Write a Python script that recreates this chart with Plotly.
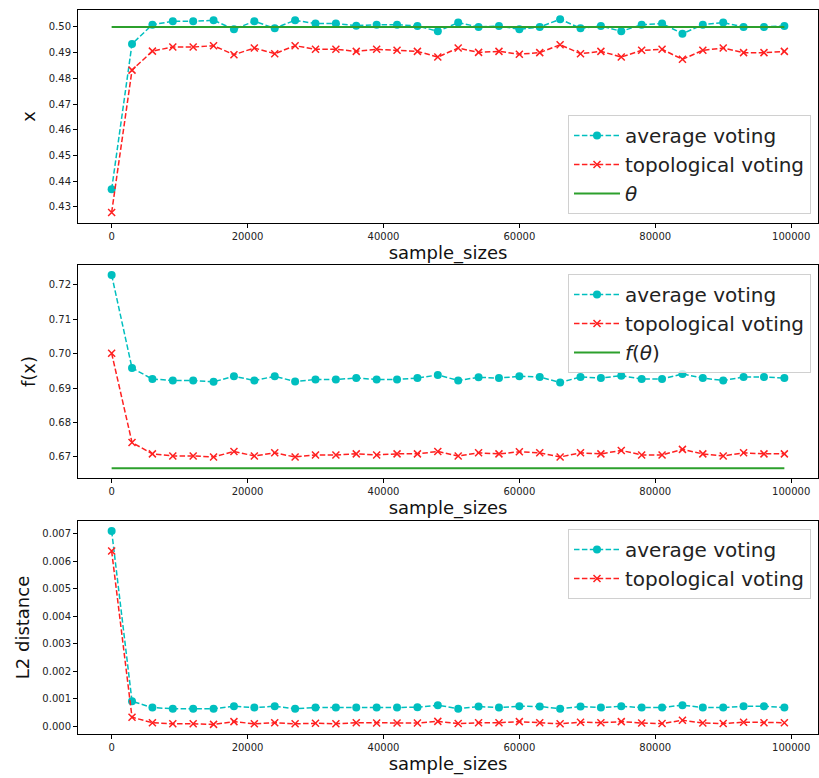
import plotly.graph_objects as go

sample_sizes = list(range(0, 100000, 3000))

x_avg = [0.4368, 0.4934, 0.5009, 0.5022, 0.5022, 0.5026, 0.4991, 0.5022, 0.4995, 0.5026,
         0.5013, 0.5013, 0.5005, 0.5009, 0.5009, 0.5004, 0.4983, 0.5017, 0.5000, 0.5004,
         0.4991, 0.5000, 0.5030, 0.4995, 0.5004, 0.4983, 0.5009, 0.5013, 0.4974, 0.5009,
         0.5017, 0.5000, 0.5000, 0.5004]
x_topo = [0.4278, 0.4832, 0.4906, 0.4922, 0.4922, 0.4927, 0.4892, 0.4918, 0.4896, 0.4927,
          0.4913, 0.4913, 0.4905, 0.4913, 0.4909, 0.4905, 0.4883, 0.4918, 0.4901, 0.4905,
          0.4894, 0.4900, 0.4931, 0.4896, 0.4905, 0.4883, 0.4909, 0.4913, 0.4874, 0.4909,
          0.4918, 0.4900, 0.4900, 0.4905]
theta = 0.5

f_avg = [0.7228, 0.6958, 0.6926, 0.6922, 0.6922, 0.6918, 0.6934, 0.6922, 0.6934, 0.6919,
         0.6925, 0.6925, 0.6929, 0.6925, 0.6925, 0.6929, 0.6938, 0.6922, 0.6931, 0.6929,
         0.6934, 0.6932, 0.6916, 0.6932, 0.6929, 0.6936, 0.6926, 0.6926, 0.6941, 0.6929,
         0.6922, 0.6932, 0.6932, 0.6929]
f_topo = [0.7001, 0.6742, 0.6709, 0.6703, 0.6703, 0.6700, 0.6716, 0.6703, 0.6712, 0.6700,
          0.6706, 0.6706, 0.6709, 0.6706, 0.6709, 0.6709, 0.6716, 0.6703, 0.6712, 0.6709,
          0.6715, 0.6712, 0.6700, 0.6712, 0.6709, 0.6719, 0.6706, 0.6706, 0.6722, 0.6709,
          0.6703, 0.6712, 0.6709, 0.6709]
f_theta = 0.6667

l2_avg = [0.00711, 0.00091, 0.00068, 0.00064, 0.00064, 0.00064, 0.00073, 0.00068, 0.00073, 0.00064,
          0.00068, 0.00068, 0.00068, 0.00068, 0.00068, 0.00069, 0.00077, 0.00064, 0.00072, 0.00068,
          0.00073, 0.00072, 0.00064, 0.00072, 0.00068, 0.00073, 0.00068, 0.00068, 0.00077, 0.00068,
          0.00068, 0.00073, 0.00073, 0.00068]
l2_topo = [0.00638, 0.00033, 0.00013, 0.00009, 0.00009, 0.00007, 0.00017, 0.00009, 0.00013, 0.00009,
           0.00011, 0.00009, 0.00013, 0.00012, 0.00012, 0.00012, 0.00018, 0.00010, 0.00013, 0.00013,
           0.00017, 0.00013, 0.00009, 0.00015, 0.00013, 0.00017, 0.00012, 0.00010, 0.00022, 0.00012,
           0.00010, 0.00015, 0.00013, 0.00013]

CYAN = "#00BFBF"
RED = "#FF2020"
GREEN = "#2ca02c"
DASH = "5.5px,2.4px"
FONT = "DejaVu Sans"

fig = go.Figure()

panels = [
    ("x", "y", "legend", x_avg, x_topo, [theta] * len(sample_sizes), "<i>θ</i>"),
    ("x2", "y2", "legend2", f_avg, f_topo, [f_theta] * len(sample_sizes), "<i>f</i>(<i>θ</i>)"),
    ("x3", "y3", "legend3", l2_avg, l2_topo, None, None),
]

for i, (xa, ya, lg, avg, topo, ref, refname) in enumerate(panels):
    fig.add_trace(go.Scatter(
        x=sample_sizes, y=avg, name="average voting", xaxis=xa, yaxis=ya, legend=lg,
        mode="lines+markers", legendgroup=f"a{i}",
        line=dict(color=CYAN, width=1.5, dash=DASH),
        marker=dict(symbol="circle", size=8, color=CYAN)))
    fig.add_trace(go.Scatter(
        x=sample_sizes, y=topo, name="topological voting", xaxis=xa, yaxis=ya, legend=lg,
        mode="lines+markers", legendgroup=f"t{i}",
        line=dict(color=RED, width=1.5, dash=DASH),
        marker=dict(symbol="x-thin", size=7, color=RED, line=dict(color=RED, width=1.5))))
    if ref is not None:
        fig.add_trace(go.Scatter(
            x=sample_sizes, y=ref, name=refname, xaxis=xa, yaxis=ya, legend=lg,
            mode="lines", legendgroup=f"r{i}",
            line=dict(color=GREEN, width=2)))

W, H = 819, 778
ml, mr, mt, mb = 78, 1, 10, 44
ph = H - mt - mb

def ydom(top_px, bot_px):
    return [(H - mb - bot_px) / ph, (H - mb - top_px) / ph]

axis_common = dict(showline=True, mirror=True, linecolor="black", linewidth=1,
                   ticks="outside", ticklen=4, tickcolor="black", showgrid=False,
                   zeroline=False, automargin=False,
                   tickfont=dict(family=FONT, size=10, color="#222"))

xr = [-4950, 103950]
for k, (top, bot) in zip(["", "2", "3"], [(10, 223), (265, 478), (521, 734)]):
    fig.layout["xaxis" + k] = dict(axis_common, range=xr, tickvals=[0, 20000, 40000, 60000, 80000, 100000],
                                   ticktext=["0", "20000", "40000", "60000", "80000", "100000"],
                                   anchor="y" + k, domain=[0, 1],
                                   title=dict(text="sample_sizes", font=dict(family=FONT, size=18, color="#111"), standoff=4))
    fig.layout["yaxis" + k] = dict(axis_common, anchor="x" + k, domain=ydom(top, bot))

fig.layout.yaxis.update(range=[0.4237, 0.5066], dtick=0.01, tickformat=".2f",
                        title=dict(text="x", font=dict(family=FONT, size=18, color="#111"), standoff=8))
fig.layout.yaxis2.update(range=[0.6639, 0.7257], dtick=0.01, tickformat=".2f",
                         title=dict(text="f(x)", font=dict(family=FONT, size=18, color="#111"), standoff=8))
fig.layout.yaxis3.update(range=[-0.00028, 0.00747], dtick=0.001, tickformat=".3f",
                         title=dict(text="L2 distance", font=dict(family=FONT, size=18, color="#111"), standoff=8))

leg_common = dict(bgcolor="rgba(255,255,255,0.8)", bordercolor="#d0d0d0", borderwidth=1,
                  font=dict(family=FONT, size=20, color="#222"), xanchor="right", yanchor="top",
                  tracegroupgap=0, itemwidth=46)

def py(px):
    return (H - mb - px) / ph

def px_x(px):
    return (px - ml) / (W - ml - mr)

fig.update_layout(
    width=W, height=H, margin=dict(l=ml, r=mr, t=mt, b=mb, autoexpand=False),
    paper_bgcolor="white", plot_bgcolor="white",
    font=dict(family=FONT),
    legend=dict(leg_common, x=px_x(811), y=py(115)),
    legend2=dict(leg_common, x=px_x(811), y=py(274)),
    legend3=dict(leg_common, x=px_x(811), y=py(529)),
)

fig.write_html("out.html", config={"displayModeBar": False},
               post_script="document.body.style.margin='0';document.body.style.padding='0';"
                           "document.body.style.overflow='hidden';"
                           "document.documentElement.style.overflow='hidden';")
